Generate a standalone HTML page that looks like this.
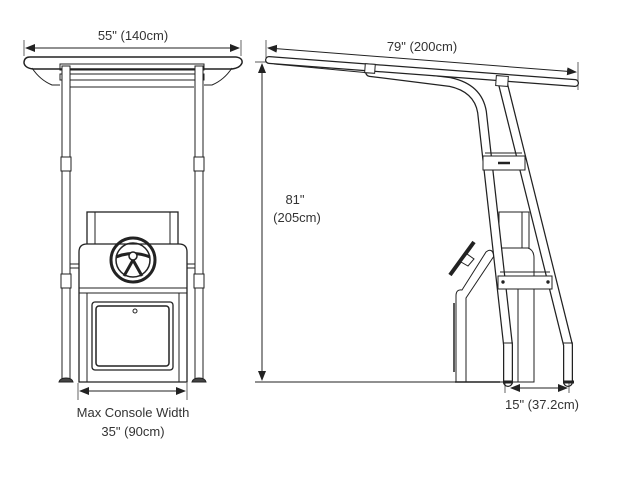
<!DOCTYPE html>
<html><head><style>
html,body{margin:0;padding:0;background:#fff;}
svg{display:block;}
text{font-family:"Liberation Sans",sans-serif;font-size:13px;fill:#333;}
</style></head><body>
<svg width="636" height="477" viewBox="0 0 636 477" xmlns="http://www.w3.org/2000/svg">
<defs>
<marker id="a" markerWidth="10" markerHeight="8" refX="9" refY="4" orient="auto-start-reverse" markerUnits="userSpaceOnUse">
<path d="M0,0 L10,4 L0,8 z" fill="#222"/></marker>
</defs>
<g stroke="#222" fill="none" stroke-width="1">
<!-- LEFT VIEW -->
<line x1="24" y1="40" x2="24" y2="56" stroke-width="0.7"/>
<line x1="241" y1="40" x2="241" y2="56" stroke-width="0.7"/>
<line x1="26" y1="48" x2="239" y2="48" marker-start="url(#a)" marker-end="url(#a)"/>
<path d="M30,57 H236 Q243,58 242,63 Q240,68 232,69 H33 Q25,68 24,63 Q24,57 30,57 Z" stroke-width="1.5"/>
<rect x="60" y="64" width="144" height="6" />
<rect x="60" y="74" width="144" height="6" />
<line x1="70" y1="87" x2="194" y2="87"/>
<path d="M32,68 Q40,80 52,85 L60,85"/><path d="M232,68 Q224,80 212,85 L204,85"/>
<rect x="62" y="66" width="8" height="314" fill="#fff"/>
<rect x="195" y="66" width="8" height="314" fill="#fff"/>
<rect x="61" y="157" width="10" height="14" fill="#fff"/>
<rect x="194" y="157" width="10" height="14" fill="#fff"/>
<rect x="61" y="274" width="10" height="14" fill="#fff"/>
<rect x="194" y="274" width="10" height="14" fill="#fff"/>
<line x1="70" y1="264" x2="79" y2="264"/><line x1="70" y1="268" x2="79" y2="268"/>
<line x1="187" y1="264" x2="195" y2="264"/><line x1="187" y1="268" x2="195" y2="268"/>
<path d="M59,382 Q60,378 66,378 Q72,378 73,382 Z" fill="#444"/>
<path d="M192,382 Q193,378 199,378 Q205,378 206,382 Z" fill="#444"/>
<rect x="87" y="212" width="91" height="34" stroke-width="1.3"/>
<line x1="95" y1="212" x2="95" y2="244"/><line x1="170" y1="212" x2="170" y2="244"/>
<path d="M79,382 V252 Q79,244 87,244 H179 Q187,244 187,252 V382 Z" stroke-width="1.3" fill="#fff"/>
<line x1="79" y1="288" x2="187" y2="288"/><line x1="79" y1="293" x2="187" y2="293"/>
<line x1="87" y1="293" x2="87" y2="382"/><line x1="179" y1="293" x2="179" y2="382"/>
<rect x="92" y="302" width="81" height="68" rx="3" stroke-width="1.3"/>
<rect x="96" y="306" width="73" height="60" rx="3" stroke-width="1.5"/>
<circle cx="135" cy="311" r="2"/>
<circle cx="133" cy="260" r="22" stroke-width="3"/>
<circle cx="133" cy="260" r="17" stroke-width="1.5"/>
<path d="M116,257 Q133,250 150,257 M133,260 L124,276 M133,260 L142,276" stroke-width="3"/>
<circle cx="133" cy="256" r="4" fill="#fff" stroke-width="1.5"/>
<line x1="78" y1="383" x2="78" y2="400" stroke-width="0.7"/>
<line x1="187" y1="383" x2="187" y2="400" stroke-width="0.7"/>
<line x1="80" y1="391" x2="185" y2="391" marker-start="url(#a)" marker-end="url(#a)"/>

<!-- RIGHT VIEW -->
<line x1="266" y1="40" x2="266" y2="62" stroke-width="0.7"/>
<line x1="578" y1="62" x2="578" y2="90" stroke-width="0.7"/>
<line x1="268" y1="48" x2="576" y2="72" marker-start="url(#a)" marker-end="url(#a)"/>
<line x1="255" y1="62" x2="272" y2="62" stroke-width="0.7"/>
<line x1="262" y1="64" x2="262" y2="380" marker-start="url(#a)" marker-end="url(#a)"/>
<line x1="255" y1="382" x2="455" y2="382"/>
<!-- console side (behind tubes) -->
<rect x="499" y="212" width="30" height="36" fill="#fff"/>
<line x1="522" y1="212" x2="522" y2="248"/>
<path d="M497,248 H528 Q534,250 534,258 V382 H500" fill="#fff"/>
<line x1="518" y1="288" x2="518" y2="382"/>
<path d="M456,382 V296 Q456,289 462,290 L486,252 Q492,247 494,256 L466,298 V382" fill="#fff"/>
<line x1="454" y1="303" x2="454" y2="372" stroke-width="1.5"/>
<line x1="455" y1="382" x2="500" y2="382" stroke-width="1.5"/>
<line x1="450" y1="275" x2="474" y2="242" stroke-width="4"/>
<path d="M461,262 L467,254 L474,259 L468,266 Z" fill="#fff"/>
<!-- tubes -->
<g stroke-linecap="round" stroke-linejoin="round">
<path d="M370,72 L450,82 Q478,88 482,112 L508,345 L508,382" stroke-width="10"/>
<path d="M370,72 L450,82 Q478,88 482,112 L508,345 L508,382" stroke="#fff" stroke-width="7.5"/>
<path d="M502,80 L568,345 L568,382" stroke-width="10"/>
<path d="M502,80 L568,345 L568,382" stroke="#fff" stroke-width="7.5"/>
<path d="M269,60 L575,83" stroke-width="8"/>
<path d="M269,60 L575,83" stroke="#fff" stroke-width="5.5"/>
</g>
<line x1="274" y1="64" x2="370" y2="73"/>
<rect x="365" y="64" width="10" height="9" fill="#fff" transform="rotate(4 370 68)"/>
<rect x="496" y="76" width="12" height="10" fill="#fff" transform="rotate(4 502 81)"/>
<line x1="503" y1="343" x2="513" y2="343"/><line x1="563" y1="343" x2="573" y2="343"/>
<path d="M503,382 L513,382" stroke-width="3"/><path d="M563,382 L574,382" stroke-width="3"/>
<!-- crossbars -->
<rect x="483" y="156" width="42" height="14" fill="#fff"/>
<line x1="485" y1="153" x2="522" y2="153"/>
<path d="M498,163 H510" stroke-width="2.5"/>
<rect x="498" y="276" width="54" height="13" fill="#fff"/>
<line x1="500" y1="272" x2="550" y2="272"/>
<circle cx="503" cy="282" r="1.2" fill="#222"/><circle cx="548" cy="282" r="1.2" fill="#222"/>
<line x1="505" y1="383" x2="505" y2="393" stroke-width="0.7"/>
<line x1="569" y1="383" x2="569" y2="393" stroke-width="0.7"/>
<line x1="511" y1="388" x2="567" y2="388" marker-start="url(#a)" marker-end="url(#a)"/>
</g>
<text x="133" y="40" text-anchor="middle">55" (140cm)</text>
<text x="133" y="417" text-anchor="middle">Max Console Width</text>
<text x="133" y="436" text-anchor="middle">35" (90cm)</text>
<text x="422" y="51" text-anchor="middle">79" (200cm)</text>
<text x="295" y="204" text-anchor="middle">81"</text>
<text x="297" y="222" text-anchor="middle">(205cm)</text>
<text x="542" y="409" text-anchor="middle">15" (37.2cm)</text>
</svg>
</body></html>
